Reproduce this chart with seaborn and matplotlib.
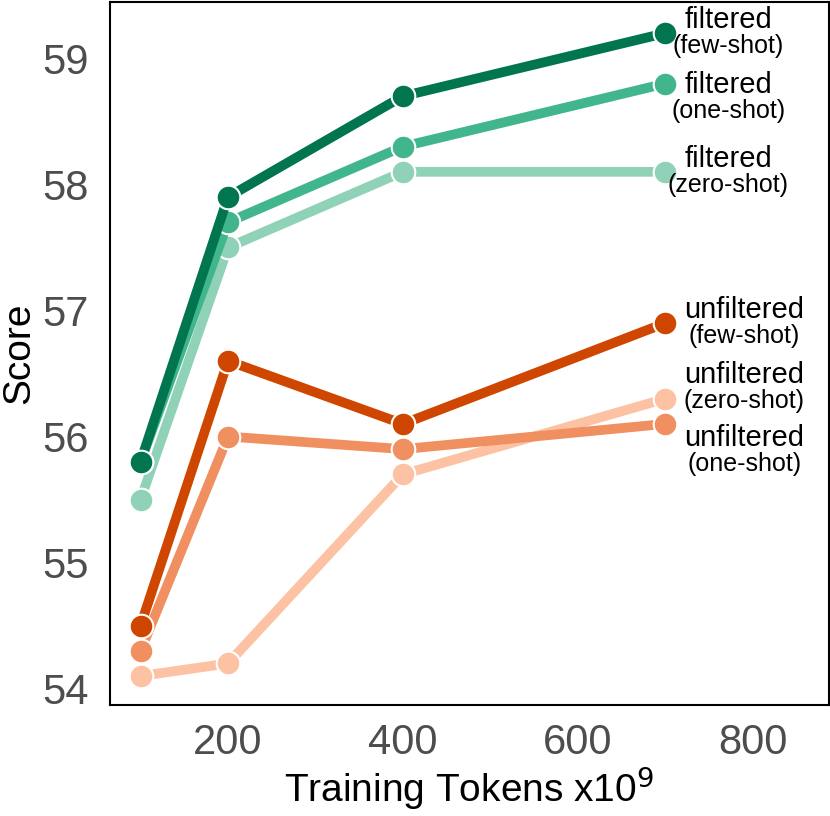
import numpy as np
import pandas as pd
import matplotlib
matplotlib.use("Agg")
import matplotlib.pyplot as plt
import seaborn as sns

# data
tokens = [100, 200, 400, 700]
filt_zero = [55.5, 57.5, 58.1, 58.1]
filt_one = [55.8, 57.7, 58.3, 58.8]
filt_few = [55.8, 57.9, 58.7, 59.2]
unf_zero = [54.1, 54.2, 55.7, 56.3]
unf_one = [54.3, 56.0, 55.9, 56.1]
unf_few = [54.5, 56.6, 56.1, 56.9]

series_names = ["unfiltered (zero-shot)", "unfiltered (one-shot)", "unfiltered (few-shot)",
                "filtered (zero-shot)", "filtered (one-shot)", "filtered (few-shot)"]
series_vals = [unf_zero, unf_one, unf_few, filt_zero, filt_one, filt_few]
colors = ["#fdc1a3", "#f08f60", "#cf4600", "#90d2b8", "#41b68d", "#007550"]

rows = []
for name, vals in zip(series_names, series_vals):
    for t, v in zip(tokens, vals):
        rows.append({"tokens": t, "score": v, "series": name})
df = pd.DataFrame(rows)

sns.set_style("white")
plt.rcParams['font.family'] = ['Liberation Sans', 'DejaVu Sans']

fig = plt.figure(figsize=(8.3, 8.16), dpi=100)
ax = fig.add_axes([0.1325, 0.136, 0.866, 0.862])

sns.lineplot(data=df, x="tokens", y="score", hue="series", hue_order=series_names,
             palette=colors, marker="o", markersize=17, markeredgecolor="white",
             markeredgewidth=1.5, linewidth=7, legend=False, ax=ax)

# labels next to last point: (top word, bottom word, center x offset px, center y offset px)
label_top = ["unfiltered", "unfiltered", "unfiltered", "filtered", "filtered", "filtered"]
label_bot = ["(zero-shot)", "(one-shot)", "(few-shot)", "(zero-shot)", "(one-shot)", "(few-shot)"]
label_dx = [79, 79, 79, 63, 63, 63]
label_dy = [11, -27, 0, 0, -14, 0]
for vals, top, bot, dx, dy in zip(series_vals, label_top, label_bot, label_dx, label_dy):
    ax.annotate(top, xy=(tokens[-1], vals[-1]), xytext=(dx, dy + 13), textcoords="offset pixels",
                ha="center", va="center", fontsize=21, color="black")
    ax.annotate(bot, xy=(tokens[-1], vals[-1]), xytext=(dx, dy - 13), textcoords="offset pixels",
                ha="center", va="center", fontsize=18, color="black")

ax.set_xlim(65, 887)
ax.set_ylim(53.87, 59.45)
ax.set_xticks([200, 400, 600, 800])
ax.set_yticks([54, 55, 56, 57, 58, 59])
ax.set_xlabel("Training Tokens x10$^9$", fontsize=28, color="black", labelpad=1)
ax.set_ylabel("Score", fontsize=28, color="black", labelpad=4)
ax.tick_params(axis="both", labelsize=30, labelcolor="#4d4d4d", direction="out",
               length=7, width=1.2, color="#333333", pad=8)
ax.tick_params(axis="x", pad=6)
for s in ax.spines.values():
    s.set_color("black")
    s.set_linewidth(1.5)

fig.savefig("out.png", dpi=100)
